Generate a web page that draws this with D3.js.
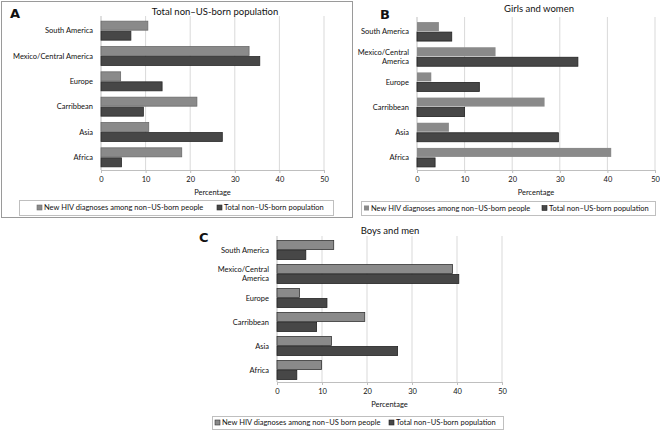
<!doctype html>
<html lang="en">
  <head>
    <meta charset="utf-8">
    <title>Non-US-born HIV diagnoses</title>
    <script src="https://d3js.org/d3.v7.min.js"></script>
    <style>
      body { margin: 0; background: #fff; }
      svg text { font-family: Lato, 'Open Sans', sans-serif; fill: #111; }
      .tick line { stroke: #bfbfbf; }
      .domain { stroke: #bfbfbf; }
    </style>
  </head>
  <body>
    <div id="chart"></div>
  </body>
  <script>
    // categories (top to bottom)
    const regions = ['South America', 'Mexico/Central America', 'Europe', 'Carribbean', 'Asia', 'Africa'];
    const xTicks = [0, 10, 20, 30, 40, 50];

    // A: total
    const totalNewHiv = [10.5, 33.2, 4.4, 21.5, 10.7, 18.1];
    const totalPop = [6.7, 35.6, 13.7, 9.5, 27.2, 4.6];
    // B: girls and women
    const womenNewHiv = [4.6, 16.5, 3.0, 26.8, 6.7, 40.8];
    const womenPop = [7.3, 33.8, 13.1, 10.0, 29.7, 3.8];
    // C: boys and men
    const menNewHiv = [12.6, 39.0, 5.0, 19.5, 12.1, 9.9];
    const menPop = [6.4, 40.4, 11.1, 8.8, 26.8, 4.4];

    const legendA = ['New HIV diagnoses among non\u2013US-born people', 'Total non\u2013US-born population'];
    const legendC = ['New HIV diagnoses among non\u2013US born people', 'Total non\u2013US-born population'];

    const lightFill = '#8a8a8a';
    const darkFill = '#474747';

    const svg = d3.select('#chart')
      .append('svg')
      .attr('width', 660)
      .attr('height', 431);

    // box round panel A
    svg.append('rect')
      .attr('x', 1.5).attr('y', 1.5)
      .attr('width', 351).attr('height', 216)
      .attr('fill', 'none')
      .attr('stroke', '#9a9a9a');

    const panels = [
      {letter: 'A', title: 'Total non\u2013US-born population', hiv: totalNewHiv, pop: totalPop,
       x0: 101, x1: 324, y0: 18, y1: 170, labelX: 93, wrap: false,
       titlePos: [215, 12], letterPos: [10, 18],
       legendBox: [19, 200, 314, 15], legendX: [37, 217], legendText: legendA,
       lightStroke: '#6a6a6a', darkStroke: '#2a2a2a'},
      {letter: 'B', title: 'Girls and women', hiv: womenNewHiv, pop: womenPop,
       x0: 417, x1: 655, y0: 19, y1: 170, labelX: 409, wrap: true,
       titlePos: [539, 9], letterPos: [380, 19],
       legendBox: [361, 201, 294, 14], legendX: [364, 542], legendText: legendA,
       lightStroke: 'none', darkStroke: '#222'},
      {letter: 'C', title: 'Boys and men', hiv: menNewHiv, pop: menPop,
       x0: 277, x1: 502, y0: 238, y1: 382, labelX: 269, wrap: true,
       titlePos: [390, 231], letterPos: [199, 242],
       legendBox: [212, 416, 291, 13], legendX: [215, 389], legendText: legendC,
       lightStroke: '#333', darkStroke: '#222'}
    ];

    panels.forEach(function(p) {
      const g = svg.append('g');

      const x = d3.scaleLinear().domain([0, 50]).range([p.x0, p.x1]);
      const y = d3.scaleBand().domain(regions).range([p.y0, p.y1]);
      const bw = y.bandwidth();
      const barH = 9, gap = 1;
      const pad = (bw - 2 * barH - gap) / 2;

      // gridlines
      g.selectAll('.grid')
        .data(xTicks.slice(1))
        .enter().append('line')
        .attr('x1', d => x(d)).attr('x2', d => x(d))
        .attr('y1', p.y0 - 2).attr('y2', p.y1)
        .attr('stroke', '#d9d9d9');

      // x axis
      g.append('g')
        .attr('transform', 'translate(0,' + p.y1 + ')')
        .call(d3.axisBottom(x).tickValues(xTicks).tickSize(3).tickPadding(4).tickSizeOuter(0))
        .call(a => a.selectAll('text').attr('font-size', '7.5px').style('font-family', 'Lato, sans-serif').attr('fill', '#111'));

      // left axis line
      g.append('line')
        .attr('x1', x(0)).attr('x2', x(0))
        .attr('y1', p.y0 - 2).attr('y2', p.y1)
        .attr('stroke', '#bfbfbf');

      const rows = regions.map((r, i) => ({region: r, hiv: p.hiv[i], pop: p.pop[i]}));

      g.selectAll('.light')
        .data(rows)
        .enter().append('rect')
        .attr('x', x(0))
        .attr('y', d => y(d.region) + pad)
        .attr('width', d => x(d.hiv) - x(0))
        .attr('height', barH)
        .attr('fill', lightFill)
        .attr('stroke', p.lightStroke)
        .attr('stroke-width', 0.8);

      g.selectAll('.dark')
        .data(rows)
        .enter().append('rect')
        .attr('x', x(0))
        .attr('y', d => y(d.region) + pad + barH + gap)
        .attr('width', d => x(d.pop) - x(0))
        .attr('height', barH)
        .attr('fill', darkFill)
        .attr('stroke', p.darkStroke)
        .attr('stroke-width', 0.8);

      // category labels
      rows.forEach(function(d) {
        const cy = y(d.region) + bw / 2;
        const parts = (p.wrap && d.region.indexOf('/') > -1) ? ['Mexico/Central', 'America'] : [d.region];
        const t = g.append('text')
          .attr('x', p.labelX)
          .attr('text-anchor', 'end')
          .attr('font-size', '7.5px');
        parts.forEach(function(s, k) {
          t.append('tspan')
            .attr('x', p.labelX)
            .attr('y', cy + (k - (parts.length - 1) / 2) * 9.5)
            .attr('dy', '0.35em')
            .text(s);
        });
      });

      // axis title
      g.append('text')
        .attr('x', (p.x0 + p.x1) / 2)
        .attr('y', p.y1 + 22)
        .attr('dy', '0.35em')
        .attr('text-anchor', 'middle')
        .attr('font-size', '7.5px')
        .text('Percentage');

      // panel title
      g.append('text')
        .attr('x', p.titlePos[0]).attr('y', p.titlePos[1])
        .attr('dy', '0.35em')
        .attr('text-anchor', 'middle')
        .attr('font-size', '9.5px')
        .text(p.title);

      // panel letter
      g.append('text')
        .attr('x', p.letterPos[0]).attr('y', p.letterPos[1])
        .attr('font-size', '13px')
        .attr('font-weight', 900)
        .style('font-family', "'DejaVu Sans', sans-serif")
        .attr('fill', '#000')
        .text(p.letter);

      // legend
      const lb = p.legendBox;
      g.append('rect')
        .attr('x', lb[0] + 0.5).attr('y', lb[1] + 0.5)
        .attr('width', lb[2]).attr('height', lb[3])
        .attr('fill', '#fff')
        .attr('stroke', '#bfbfbf');
      const cols = [lightFill, darkFill];
      const strokes = [p.lightStroke, p.darkStroke];
      p.legendText.forEach(function(s, k) {
        g.append('rect')
          .attr('x', p.legendX[k]).attr('y', lb[1] + lb[3] / 2 - 2.5)
          .attr('width', 5).attr('height', 5)
          .attr('fill', cols[k])
          .attr('stroke', strokes[k])
          .attr('stroke-width', 0.6);
        g.append('text')
          .attr('x', p.legendX[k] + 7)
          .attr('y', lb[1] + lb[3] / 2)
          .attr('dy', '0.35em')
          .attr('font-size', '7.5px')
          .text(s);
      });
    });
  </script>
</html>
